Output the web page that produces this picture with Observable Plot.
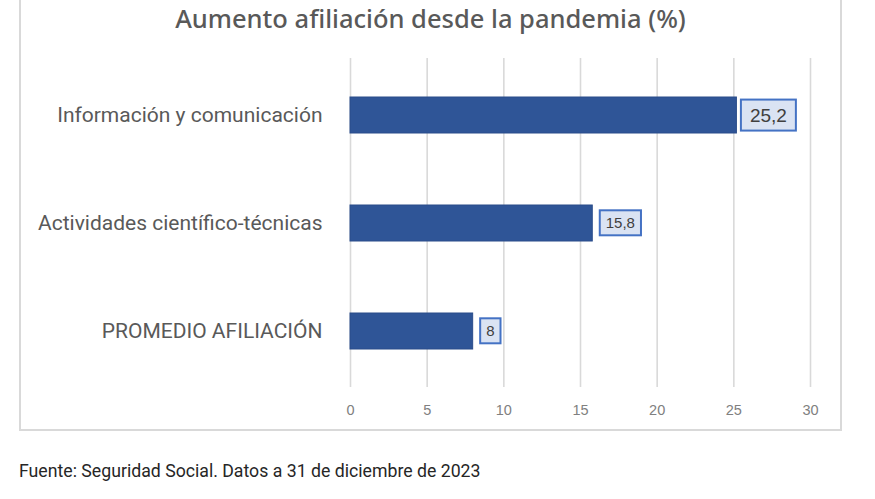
<!DOCTYPE html>
<html>
<head>
<meta charset="utf-8">
<script src="https://cdn.jsdelivr.net/npm/d3@7"></script>
<script src="https://cdn.jsdelivr.net/npm/@observablehq/plot@0.6"></script>
<style>
  html, body { margin: 0; padding: 0; background: #fff; }
  #page { position: relative; width: 875px; height: 499px; overflow: hidden; }
  #box { position: absolute; left: 19px; top: -6px; width: 823px; height: 437px; border: 2px solid #d9d9d9; box-sizing: border-box; }
  #title { position: absolute; left: 19px; top: 1px; width: 823px; text-align: center; font-family: "Noto Sans", sans-serif; font-weight: 500; font-size: 25.5px; color: #595959; line-height: 34px; }
  #chart { position: absolute; left: 0; top: 0; }
  #caption { position: absolute; left: 19px; top: 461px; font-family: Roboto, sans-serif; font-size: 17.7px; color: #262626; }
</style>
</head>
<body>
<div id="page">
  <div id="box"></div>
  <div id="title">Aumento afiliación desde la pandemia (%)</div>
  <div id="chart"></div>
  <div id="caption">Fuente: Seguridad Social. Datos a 31 de diciembre de 2023</div>
</div>
<script>
const categories = ["Información y comunicación", "Actividades científico-técnicas", "PROMEDIO AFILIACIÓN"];
const values = [25.2, 15.8, 8];
const valueLabels = ["25,2", "15,8", "8"];
const xTicks = [0, 5, 10, 15, 20, 25, 30];

const data = categories.map((c, i) => ({category: c, value: values[i], label: valueLabels[i]}));

const plot = Plot.plot({
  width: 875,
  height: 440,
  marginLeft: 350,
  marginRight: 65,
  marginTop: 58,
  marginBottom: 53,
  style: {background: "transparent", overflow: "visible"},
  x: {domain: [0, 30], ticks: xTicks, label: null},
  y: {domain: categories, paddingInner: 0.668, paddingOuter: 0.35, label: null},
  marks: [
    Plot.gridX(xTicks, {stroke: "#d9d9d9", strokeOpacity: 1, strokeWidth: 1.6}),
    Plot.axisX({ticks: xTicks, tickSize: 0, tickPadding: 17, fontSize: 14.5, fill: "#808080", fontFamily: "Liberation Sans, sans-serif", label: null}),
    Plot.axisY({tickSize: 0, tickPadding: 28, fontSize: 21, fill: "#595959", fontFamily: "Roboto, sans-serif", label: null}),
    Plot.barX(data, {x: "value", y: "category", fill: "#2f5597", stroke: "#2a4d8a", strokeWidth: 1}),
    Plot.text(data, {x: "value", y: "category", text: "label", textAnchor: "start", dx: 13,
      fontSize: (d, i) => i === 0 ? 19 : 15, fill: "#404040", fontFamily: "Liberation Sans, sans-serif",
      className: "vlabel"})
  ]
});

document.getElementById("chart").appendChild(plot);

// draw boxes behind the value labels, sized from rendered text
const g = plot.querySelector("g.vlabel");
if (g) {
  const texts = Array.from(g.querySelectorAll("text"));
  texts.forEach((t, i) => {
    const bb = t.getBBox();
    const padX = i === 0 ? 9 : 6;
    const padY = i === 0 ? 5 : 4;
    const r = document.createElementNS("http://www.w3.org/2000/svg", "rect");
    r.setAttribute("x", bb.x - padX);
    r.setAttribute("y", bb.y - padY);
    r.setAttribute("width", bb.width + 2 * padX);
    r.setAttribute("height", bb.height + 2 * padY);
    r.setAttribute("fill", "#dae3f3");
    r.setAttribute("stroke", "#4472c4");
    r.setAttribute("stroke-width", 2);
    const tr = t.getAttribute("transform");
    if (tr) r.setAttribute("transform", tr);
    g.insertBefore(r, t);
  });
}
</script>
</body>
</html>
